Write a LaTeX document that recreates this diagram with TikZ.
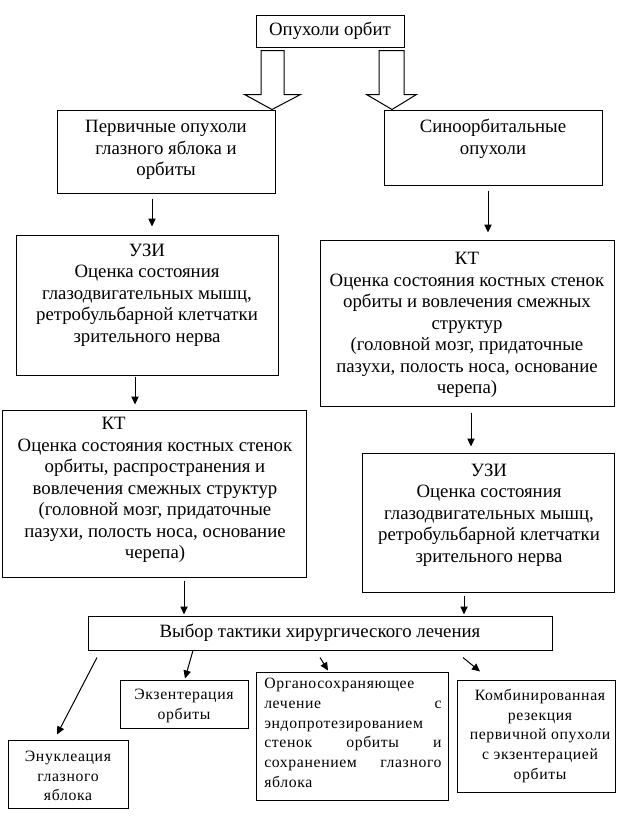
\documentclass[tikz,border=0pt]{standalone}
\usepackage{fontspec}
\setmainfont{Liberation Serif}
\newfontfamily\spacedfont[LetterSpace=4]{Liberation Serif}
\usetikzlibrary{arrows.meta,fit,calc}
\begin{document}
\begin{tikzpicture}[x=0.75pt,y=-0.75pt,
 box/.style={draw, line width=0.75pt, inner sep=0pt},
 txt/.style={align=center, inner sep=0pt, font=\fontsize{14.1}{16.1}\selectfont},
 small/.style={align=center, inner sep=0pt, font=\spacedfont\fontsize{11.8}{14.8}\selectfont},
 arr/.style={line width=0.75pt, -{Triangle[length=6pt,width=5.5pt]}},
 hollow/.style={draw, line width=0.75pt, fill=white, line join=miter}]
\useasboundingbox (0,0) rectangle (626,832);
\fill[white] (0,0) rectangle (626,832);

% boxes
\node[box, fit={(256,15) (404,47)}] (top) {};
\node[box, fit={(57,110) (275,193)}] (prim) {};
\node[box, fit={(384,110) (602,185)}] (sino) {};
\node[box, fit={(16,235) (278,375)}] (uzi1) {};
\node[box, fit={(320,240) (614,406)}] (kt2) {};
\node[box, fit={(2,410) (306,577)}] (kt1) {};
\node[box, fit={(362,453) (614,592)}] (uzi2) {};
\node[box, fit={(88,616) (552,650)}] (vybor) {};
\node[box, fit={(8,740) (128,808)}] (enuc) {};
\node[box, fit={(120,680) (248,728)}] (exent) {};
\node[box, fit={(256,672) (448,800)}] (organ) {};
\node[box, fit={(457,680) (615,792)}] (comb) {};

% texts
\node[txt] (ttop) at (330,31) {Опухоли орбит};
\node[txt] (tprim) at (166,150) {Первичные опухоли\\глазного яблока и\\орбиты};
\node[txt] (tsino) at (493,139) {Синоорбитальные\\опухоли};
\node[txt] (tuzi1) at (147,295) {УЗИ\\Оценка состояния\\глазодвигательных мышц,\\ретробульбарной клетчатки\\зрительного нерва};
\node[txt] (tkt2) at (467,325) {КТ\\Оценка состояния костных стенок\\орбиты и вовлечения смежных\\структур\\(головной мозг, придаточные\\пазухи, полость носа, основание\\черепа)};
\node[txt] (tkt1) at (155,490) {КТ\hspace*{62pt}\\Оценка состояния костных стенок\\орбиты, распространения и\\вовлечения смежных структур\\(головной мозг, придаточные\\пазухи, полость носа, основание\\черепа)};
\node[txt] (tuzi2) at (489,515) {УЗИ\\Оценка состояния\\глазодвигательных мышц,\\ретробульбарной клетчатки\\зрительного нерва};
\node[txt] (tvybor) at (320,633) {Выбор тактики хирургического лечения};
\node[small] (tenuc) at (68,776) {Энуклеация\\глазного\\яблока};
\node[small] (texent) at (184,706) {Экзентерация\\орбиты};
\node[small, align=left, text width=133pt, anchor=north west] (torgan) at (264,678) {Органосохраняющее\\лечение\hfill с\\эндопротезированием\\стенок\hfill орбиты\hfill и\\сохранением\hfill глазного\\яблока};
\node[small] (tcomb) at (540,736) {Комбинированная\\резекция\\первичной опухоли\\с экзентерацией\\орбиты};

% hollow block arrows
\draw[hollow] ($(top.south)+(-69,3)$) coordinate (la) -- ++(23,0) -- ++(0,44) -- ++(16.5,0)
  -- ($(prim.north)+(106,0)$) -- ($(la)+(-16.5,44)$) -- ($(la)+(0,44)$) -- cycle;
\draw[hollow] ($(top.south)+(49,3)$) coordinate (ra) -- ++(25,0) -- ++(0,44) -- ++(12.5,0)
  -- ($(sino.north)+(-101,0)$) -- ($(ra)+(-12.5,44)$) -- ($(ra)+(0,44)$) -- cycle;

% vertical arrows
\draw[arr] ($(prim.south)+(-14,5)$) -- ($(uzi1.north)+(5,-8)$);
\draw[arr] ($(sino.south)+(-5,5)$) -- ($(kt2.north)+(21,-7)$);
\draw[arr] ($(uzi1.south)+(-12,1)$) -- ($(kt1.north)+(-19,-5)$);
\draw[arr] ($(kt2.south)+(4,6)$) -- ($(uzi2.north)+(-17,-6)$);
\draw[arr] ($(kt1.south)+(30,3)$) -- ($(vybor.north)+(-136,-1)$);
\draw[arr] ($(uzi2.south)+(-24,3)$) -- ($(vybor.north)+(144,-1)$);

% diagonal arrows
\draw[arr] ($(vybor.south)+(-223,7)$) -- ($(enuc.north)+(-11,-5)$);
\draw[arr] ($(vybor.south)+(-127,0)$) -- ($(exent.north)+(1,-1)$);
\draw[arr] ($(vybor.south)+(0,7)$) -- ($(organ.north)+(-24,-1)$);
\draw[arr] ($(vybor.south)+(143,7)$) -- ($(comb.north)+(-56,-8)$);
\end{tikzpicture}
\end{document}
